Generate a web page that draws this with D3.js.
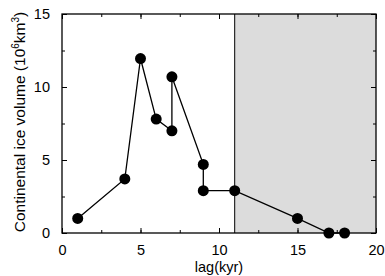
<!DOCTYPE html>
<html>
<head>
<meta charset="utf-8">
<script src="https://d3js.org/d3.v7.min.js"></script>
<style>
body { margin: 0; background: #fff; }
svg { display: block; font-family: "Liberation Sans", Arial, sans-serif; }
</style>
</head>
<body>
<svg id="chart" width="385" height="276"></svg>
<script>
// lag (kyr) vs continental ice volume (10^6 km^3), in drawing order
var lagKyr = [1, 4, 5, 6, 7, 7, 9, 9, 11, 15, 17, 18];
var iceVolume = [1.0, 3.7, 11.95, 7.8, 7.0, 10.7, 4.7, 2.9, 2.9, 1.0, 0.0, 0.0];
var shadedRange = [11, 20];
var xTicks = [0, 5, 10, 15, 20];
var yTicks = [0, 5, 10, 15];

var svg = d3.select("#chart"),
	margin = {left: 62, right: 9, top: 14, bottom: 43},
	width = +svg.attr("width"),
	height = +svg.attr("height");

var x = d3.scaleLinear().domain([0, 20]).range([margin.left, width - margin.right]);
var y = d3.scaleLinear().domain([0, 15]).range([height - margin.bottom, margin.top]);

var points = lagKyr.map(function(d, i) { return {x: d, y: iceVolume[i]}; });

// shaded region
svg.append("rect")
	.attr("x", x(shadedRange[0]))
	.attr("y", y(15))
	.attr("width", x(shadedRange[1]) - x(shadedRange[0]))
	.attr("height", y(0) - y(15))
	.attr("fill", "#dcdcdc");

svg.append("line")
	.attr("x1", x(shadedRange[0])).attr("x2", x(shadedRange[0]))
	.attr("y1", y(0)).attr("y2", y(15))
	.attr("stroke", "#000").attr("stroke-width", 1);

// axes - ticks inward on all sides
var minorX = d3.range(0, 20.01, 2.5), minorY = d3.range(0, 15.01, 2.5);

function ticksOn(axis, vals, size) {
	return axis.tickValues(vals).tickSizeInner(size).tickSizeOuter(0);
}

svg.append("g").attr("transform", "translate(0," + y(0) + ")")
	.call(ticksOn(d3.axisBottom(x), minorX, -3).tickFormat(""));
svg.append("g").attr("transform", "translate(0," + y(0) + ")")
	.call(ticksOn(d3.axisBottom(x), xTicks, -5).tickFormat(d3.format("d")).tickPadding(12));
svg.append("g").attr("transform", "translate(0," + y(15) + ")")
	.call(ticksOn(d3.axisTop(x), minorX, -3).tickFormat(""));
svg.append("g").attr("transform", "translate(0," + y(15) + ")")
	.call(ticksOn(d3.axisTop(x), xTicks, -5).tickFormat(""));

svg.append("g").attr("transform", "translate(" + x(0) + ",0)")
	.call(ticksOn(d3.axisLeft(y), minorY, -3).tickFormat(""));
svg.append("g").attr("transform", "translate(" + x(0) + ",0)")
	.call(ticksOn(d3.axisLeft(y), yTicks, -5).tickFormat(d3.format("d")).tickPadding(12));
svg.append("g").attr("transform", "translate(" + x(20) + ",0)")
	.call(ticksOn(d3.axisRight(y), minorY, -3).tickFormat(""));
svg.append("g").attr("transform", "translate(" + x(20) + ",0)")
	.call(ticksOn(d3.axisRight(y), yTicks, -5).tickFormat(""));

svg.selectAll(".domain").remove();
svg.selectAll(".tick text").attr("font-size", 14.5).attr("font-family", "Liberation Sans, Arial, sans-serif").attr("fill", "#000");

// frame
svg.append("rect")
	.attr("x", x(0)).attr("y", y(15))
	.attr("width", x(20) - x(0)).attr("height", y(0) - y(15))
	.attr("fill", "none").attr("stroke", "#000").attr("stroke-width", 1.3);

// line and markers
var line = d3.line().x(function(d) { return x(d.x); }).y(function(d) { return y(d.y); });

svg.append("path")
	.datum(points)
	.attr("d", line)
	.attr("fill", "none")
	.attr("stroke", "#000")
	.attr("stroke-width", 1.3);

svg.append("g").selectAll("circle")
	.data(points)
	.enter().append("circle")
	.attr("cx", function(d) { return x(d.x); })
	.attr("cy", function(d) { return y(d.y); })
	.attr("r", 5.5)
	.attr("fill", "#000");

// axis titles
svg.append("text")
	.attr("x", (x(0) + x(20)) / 2)
	.attr("y", 272)
	.attr("text-anchor", "middle")
	.attr("font-size", 14.5)
	.text("lag(kyr)");

var yTitle = svg.append("text")
	.attr("transform", "translate(25,122) rotate(-90)")
	.attr("text-anchor", "middle")
	.attr("font-size", 15.5);
yTitle.append("tspan").text("Continental ice volume (10");
yTitle.append("tspan").attr("dy", -6).attr("font-size", 10).text("6");
yTitle.append("tspan").attr("dy", 6).text("km");
yTitle.append("tspan").attr("dy", -6).attr("font-size", 10).text("3");
yTitle.append("tspan").attr("dy", 6).text(")");
</script>
</body>
</html>
